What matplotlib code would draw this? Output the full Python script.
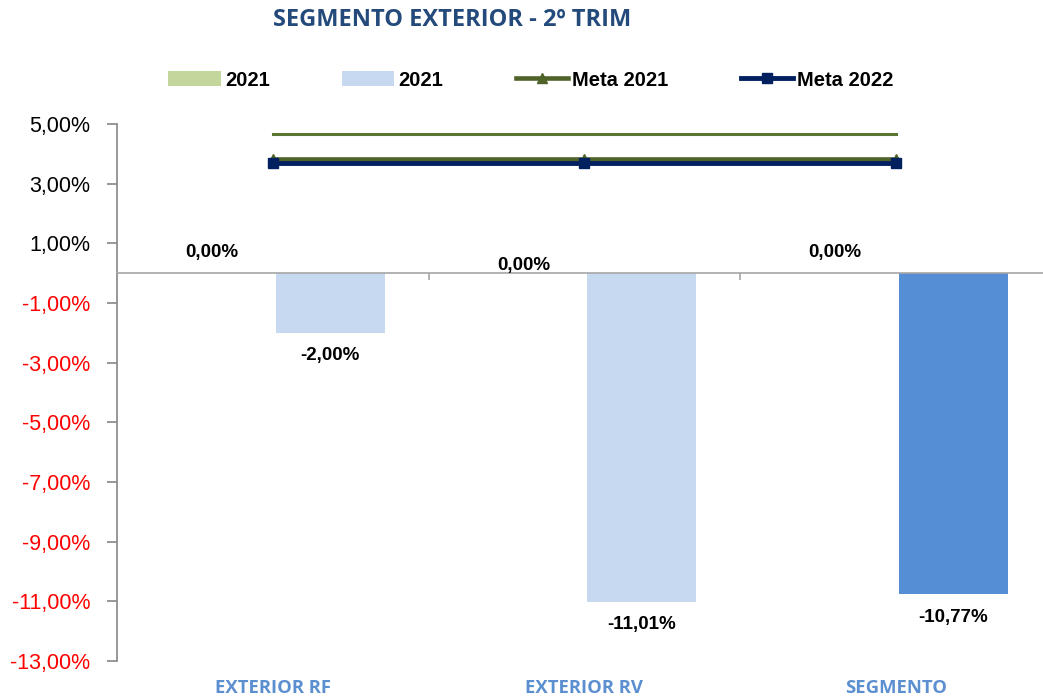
import numpy as np
import matplotlib
matplotlib.use("Agg")
import matplotlib.pyplot as plt
from matplotlib import font_manager
from matplotlib.transforms import blended_transform_factory

# dados do segmento exterior
categorias = ["EXTERIOR RF", "EXTERIOR RV", "SEGMENTO"]
serie_2021_a = [0.00, 0.00, 0.00]
serie_2021_b = [-2.00, -11.01, -10.77]
meta_2021 = [3.83, 3.83, 3.83]
meta_2022 = [3.68, 3.68, 3.68]
linha_extra = [4.67, 4.67, 4.67]
yticks = [5, 3, 1, -1, -3, -5, -7, -9, -11, -13]

fontes = {f.name for f in font_manager.fontManager.ttflist}
narrow = "Liberation Sans Narrow" if "Liberation Sans Narrow" in fontes else "Liberation Sans"
plt.rcParams["font.family"] = ["Liberation Sans", "DejaVu Sans"]

def pct(v):
    return ("%.2f%%" % v).replace(".", ",")

fig = plt.figure(figsize=(10.43, 7), dpi=100)
ax = fig.add_axes([117 / 1043, 39 / 700, 934.5 / 1043, 537 / 700])

x = np.arange(len(categorias))
w = 0.35
off = 0.185

b1 = ax.bar(x - off, serie_2021_a, w, color="#C3D69B", label="2021")
cores_b = ["#C6D9F1", "#C6D9F1", "#558ED5"]
b2 = ax.bar(x + off, serie_2021_b, w, color=cores_b, label="2021")

ax.plot(x, linha_extra, color="#5A7431", lw=2.2, zorder=3)
l1, = ax.plot(x, meta_2021, color="#4F6228", lw=3.3, marker="^", ms=7, label="Meta 2021", zorder=4)
l2, = ax.plot(x, meta_2022, color="#002060", lw=3.5, marker="s", ms=6.5, label="Meta 2022", zorder=5)

# rotulos das barras
desloc_zero = [15, 5.5, 15]
for i, v in enumerate(serie_2021_a):
    ax.annotate(pct(v), (x[i] - off - 0.01, v), xytext=(0, desloc_zero[i]), textcoords="offset points",
                ha="center", va="center", fontsize=13.5, fontweight="bold", family=narrow)
for i, v in enumerate(serie_2021_b):
    ax.annotate(pct(v), (x[i] + off, v), xytext=(0, -16.5), textcoords="offset points",
                ha="center", va="center", fontsize=13.5, fontweight="bold", family=narrow)

ax.set_xlim(-0.5, 2.5)
ax.set_ylim(-13, 5)
ax.set_yticks(yticks)
ax.set_yticklabels([pct(v) for v in yticks], fontsize=15.5)
for lab, v in zip(ax.get_yticklabels(), yticks):
    lab.set_color("red" if v < 0 else "black")

ax.spines["top"].set_visible(False)
ax.spines["right"].set_visible(False)
ax.spines["left"].set_color("#868686")
ax.spines["left"].set_linewidth(1.2)
ax.spines["bottom"].set_position(("data", 0))
ax.spines["bottom"].set_color("#A6A6A6")
ax.spines["bottom"].set_linewidth(1.2)
ax.tick_params(axis="y", direction="out", length=7, width=1.2, color="#868686", pad=12)
ax.set_xticks([0.5, 1.5])
ax.tick_params(axis="x", direction="out", length=5, width=1.2, color="#A6A6A6", labelbottom=False)

trans = blended_transform_factory(ax.transData, fig.transFigure)
for i, c in enumerate(categorias):
    ax.text(x[i], 1 - 688 / 700, c, transform=trans, ha="center", va="center",
            fontsize=13.3, fontweight="bold", color="#5B8FD0", family="Open Sans")

fig.text(452 / 1043, 1 - 20 / 700, "SEGMENTO EXTERIOR - 2º TRIM", ha="center", va="center",
         fontsize=17, fontweight="bold", color="#244A7C", family="Open Sans")

leg = fig.legend([b1, b2, l1, l2], ["2021", "2021", "Meta 2021", "Meta 2022"],
                 loc="center", bbox_to_anchor=(531 / 1043, 1 - 80 / 700), ncol=4, frameon=False,
                 handlelength=2.6, handletextpad=0.2, columnspacing=3.6, numpoints=1,
                 prop={"family": narrow, "weight": "bold", "size": 14.5})

fig.savefig("out.png", dpi=100)
